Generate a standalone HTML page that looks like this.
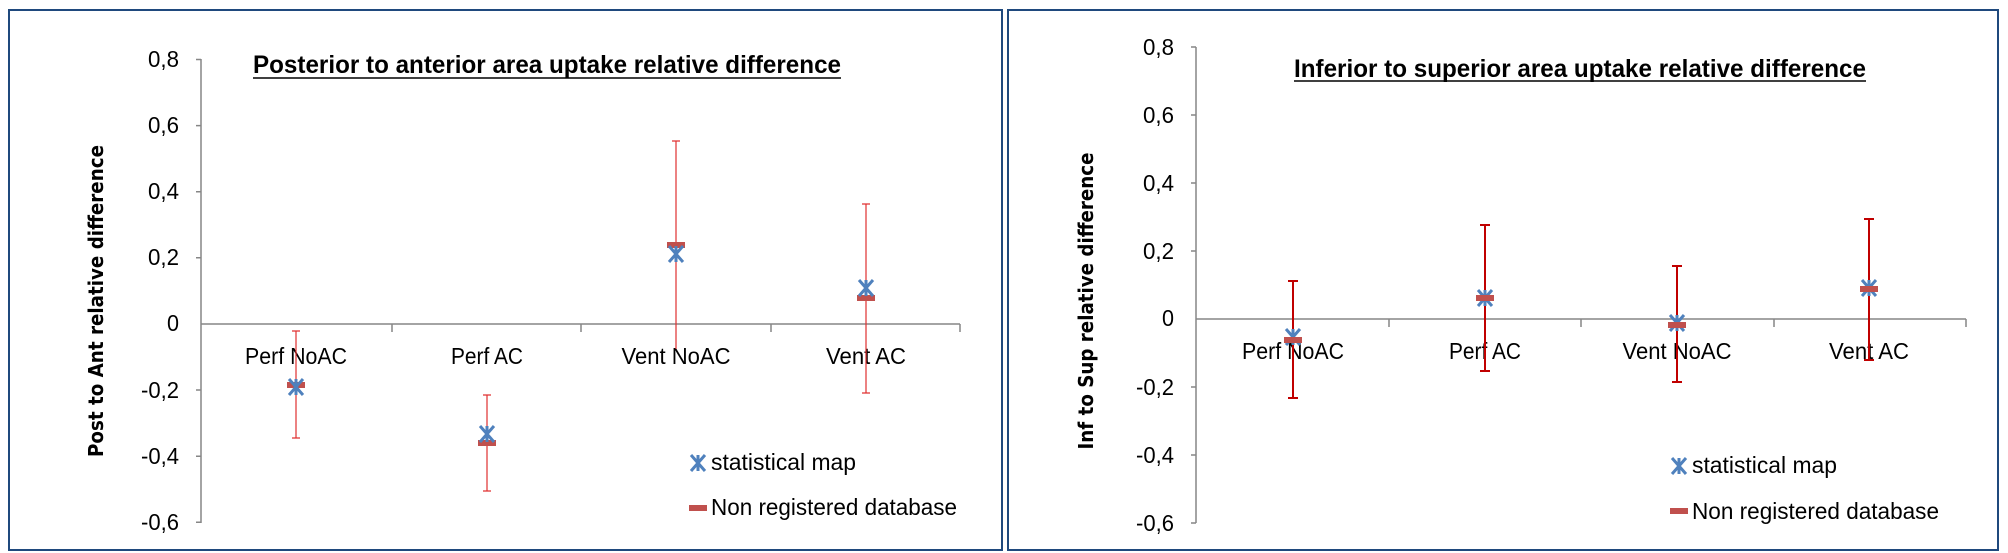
<!DOCTYPE html>
<html><head><meta charset="utf-8"><style>
html,body{margin:0;padding:0;background:#fff;}
svg{display:block;}
text{font-family:"Liberation Sans Narrow","Liberation Sans",sans-serif;fill:#000;}
.t{font-size:23px;}
.b{font-weight:bold;}
</style></head><body>
<svg width="2008" height="553" viewBox="0 0 2008 553" xmlns="http://www.w3.org/2000/svg">
<defs>
<g id="star"><path d="M-7,-8 L7,8 M-7,8 L7,-8 M0,-8 L0,8" stroke="#4f81bd" stroke-width="3" fill="none"/></g>
<g id="bar"><rect x="-9" y="-3" width="18" height="6" fill="#c0504d"/></g>
</defs>
<rect x="9" y="10" width="993" height="540" fill="none" stroke="#1f497d" stroke-width="2"/>
<rect x="1008" y="10" width="990" height="540" fill="none" stroke="#1f497d" stroke-width="2"/>

<!-- LEFT -->
<g stroke="#868686" stroke-width="1.5" fill="none">
<path d="M201,59 V523"/>
<path d="M196,59.5H201M196,125.6H201M196,191.7H201M196,257.8H201M196,390H201M196,456.2H201M196,522.3H201"/>
<path d="M201,324 H960 M392,324V332 M581,324V332 M771,324V332 M960,324V332"/>
</g>
<g class="t" text-anchor="end" lengthAdjust="spacingAndGlyphs">
<text x="179" y="67" textLength="31" lengthAdjust="spacingAndGlyphs">0,8</text><text x="179" y="133" textLength="31" lengthAdjust="spacingAndGlyphs">0,6</text><text x="179" y="199" textLength="31" lengthAdjust="spacingAndGlyphs">0,4</text><text x="179" y="265" textLength="31" lengthAdjust="spacingAndGlyphs">0,2</text><text x="179" y="331" textLength="12" lengthAdjust="spacingAndGlyphs">0</text><text x="179" y="398" textLength="38" lengthAdjust="spacingAndGlyphs">-0,2</text><text x="179" y="464" textLength="38" lengthAdjust="spacingAndGlyphs">-0,4</text><text x="179" y="530" textLength="38" lengthAdjust="spacingAndGlyphs">-0,6</text>
</g>
<g class="t" text-anchor="middle">
<text x="296" y="364" textLength="102" lengthAdjust="spacingAndGlyphs">Perf NoAC</text><text x="487" y="364" textLength="72" lengthAdjust="spacingAndGlyphs">Perf AC</text><text x="676" y="364" textLength="109" lengthAdjust="spacingAndGlyphs">Vent NoAC</text><text x="866" y="364" textLength="80" lengthAdjust="spacingAndGlyphs">Vent AC</text>
</g>
<text class="b" x="253" y="73" font-size="25" textLength="588" lengthAdjust="spacingAndGlyphs">Posterior to anterior area uptake relative difference</text>
<path d="M253,78H841" stroke="#000" stroke-width="1.5"/>
<text class="b" transform="translate(103,301) rotate(-90)" text-anchor="middle" font-size="20" style="font-family:'DejaVu Sans',sans-serif" textLength="312" lengthAdjust="spacingAndGlyphs">Post to Ant relative difference</text>
<g stroke="#e03030" stroke-width="1.2">
<path d="M296,331V438M292,331H300M292,438H300"/>
<path d="M487,395V491M483,395H491M483,491H491"/>
<path d="M676,141V349M672,141H680"/>
<path d="M866,204V393M862,204H870M862,393H870"/>
</g>
<use href="#bar" x="296" y="385"/><use href="#star" x="296" y="387"/>
<use href="#bar" x="487" y="443"/><use href="#star" x="487" y="434"/>
<use href="#bar" x="676" y="245"/><use href="#star" x="676" y="254"/>
<use href="#bar" x="866" y="298"/><use href="#star" x="866" y="288"/>
<use href="#star" x="698" y="463"/><text class="t" x="711" y="470" textLength="145" lengthAdjust="spacingAndGlyphs">statistical map</text>
<use href="#bar" x="698" y="508"/><text class="t" x="711" y="515" textLength="246" lengthAdjust="spacingAndGlyphs">Non registered database</text>

<!-- RIGHT -->
<g stroke="#868686" stroke-width="1.5" fill="none">
<path d="M1196,47V523"/>
<path d="M1191,47H1196M1191,115H1196M1191,183H1196M1191,251H1196M1191,387H1196M1191,455H1196M1191,523H1196"/>
<path d="M1196,319H1966M1389,319V327M1581,319V327M1774,319V327M1966,319V327"/>
</g>
<g class="t" text-anchor="end">
<text x="1174" y="55" textLength="31" lengthAdjust="spacingAndGlyphs">0,8</text><text x="1174" y="123" textLength="31" lengthAdjust="spacingAndGlyphs">0,6</text><text x="1174" y="191" textLength="31" lengthAdjust="spacingAndGlyphs">0,4</text><text x="1174" y="259" textLength="31" lengthAdjust="spacingAndGlyphs">0,2</text><text x="1174" y="326" textLength="12" lengthAdjust="spacingAndGlyphs">0</text><text x="1174" y="395" textLength="38" lengthAdjust="spacingAndGlyphs">-0,2</text><text x="1174" y="463" textLength="38" lengthAdjust="spacingAndGlyphs">-0,4</text><text x="1174" y="531" textLength="38" lengthAdjust="spacingAndGlyphs">-0,6</text>
</g>
<g class="t" text-anchor="middle">
<text x="1293" y="359" textLength="102" lengthAdjust="spacingAndGlyphs">Perf NoAC</text><text x="1485" y="359" textLength="72" lengthAdjust="spacingAndGlyphs">Perf AC</text><text x="1677" y="359" textLength="109" lengthAdjust="spacingAndGlyphs">Vent NoAC</text><text x="1869" y="359" textLength="80" lengthAdjust="spacingAndGlyphs">Vent AC</text>
</g>
<text class="b" x="1294" y="77" font-size="25" textLength="572" lengthAdjust="spacingAndGlyphs">Inferior to superior area uptake relative difference</text>
<path d="M1294,81H1866" stroke="#000" stroke-width="1.5"/>
<text class="b" transform="translate(1093,301) rotate(-90)" text-anchor="middle" font-size="20" style="font-family:'DejaVu Sans',sans-serif" textLength="297" lengthAdjust="spacingAndGlyphs">Inf to Sup relative difference</text>
<g stroke="#c00000" stroke-width="2">
<path d="M1293,281V398M1288,281H1298M1288,398H1298"/>
<path d="M1485,225V371M1480,225H1490M1480,371H1490"/>
<path d="M1677,266V382M1672,266H1682M1672,382H1682"/>
<path d="M1869,219V360M1864,219H1874M1864,360H1874"/>
</g>
<use href="#star" x="1293" y="337"/><use href="#bar" x="1293" y="340"/>
<use href="#star" x="1485" y="298"/><use href="#bar" x="1485" y="298"/>
<use href="#star" x="1677" y="323"/><use href="#bar" x="1677" y="325"/>
<use href="#star" x="1869" y="288"/><use href="#bar" x="1869" y="289"/>
<use href="#star" x="1679" y="466"/><text class="t" x="1692" y="473" textLength="145" lengthAdjust="spacingAndGlyphs">statistical map</text>
<use href="#bar" x="1679" y="511"/><text class="t" x="1692" y="519" textLength="247" lengthAdjust="spacingAndGlyphs">Non registered database</text>
</svg>
</body></html>
